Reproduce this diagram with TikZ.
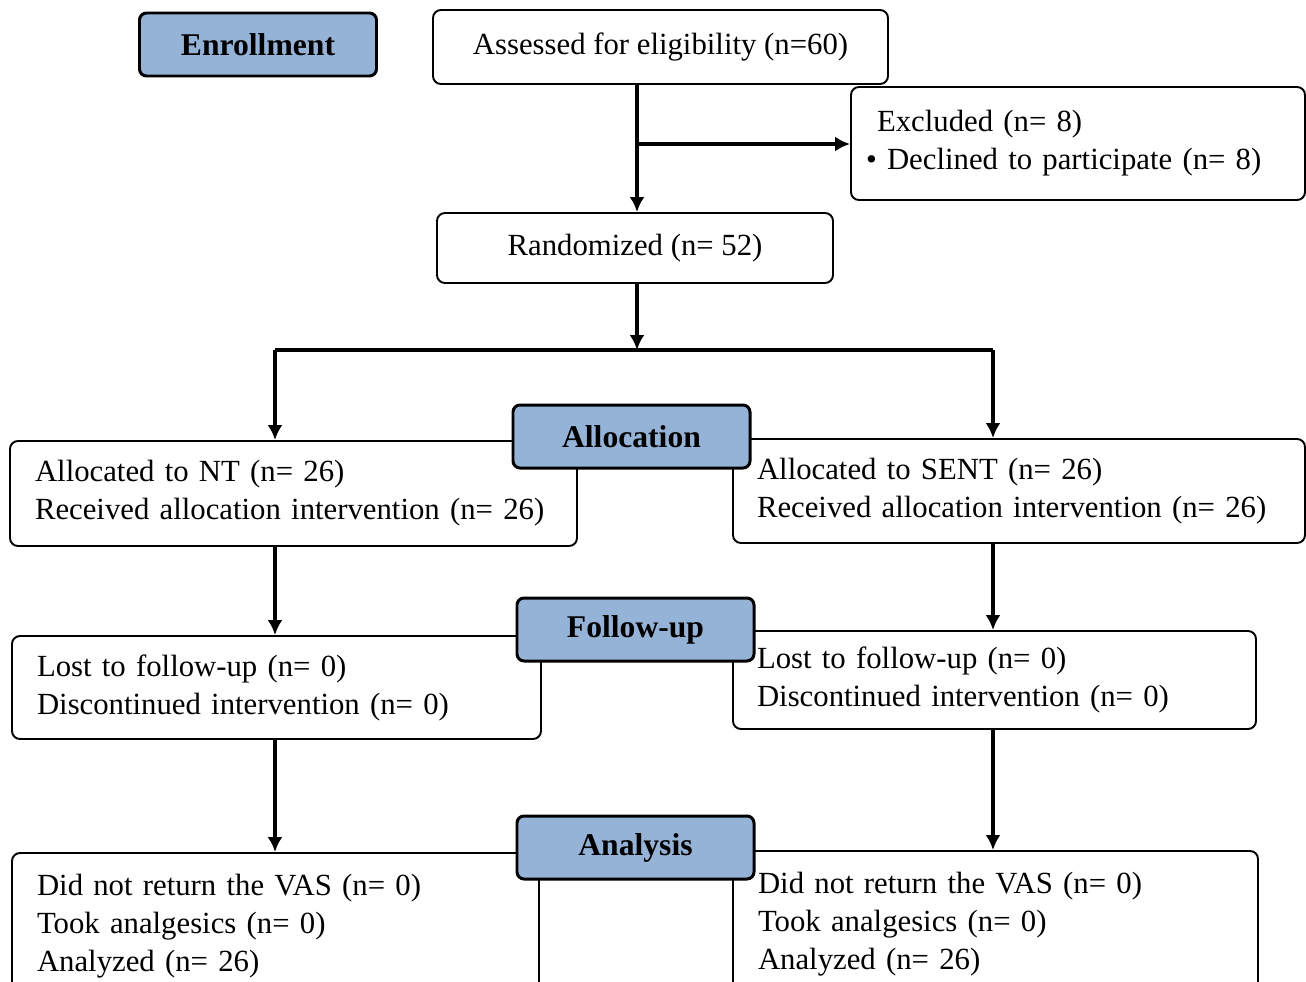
\documentclass[tikz,border=0pt]{standalone}
\usepackage{fontspec}
\setmainfont{Liberation Serif}
\usepackage{xcolor}
\usepackage{tikz}
\usetikzlibrary{arrows.meta, positioning, calc}
\definecolor{stageblue}{HTML}{95B3D7}

\begin{document}
\begin{tikzpicture}[font=\fontsize{17.5}{21.6}\selectfont]
    \tikzstyle{box} = [rectangle, draw, line width=1.1pt, rounded corners=1.6mm, fill=white, align=center]
    \tikzstyle{listbox} = [box, align=left, inner xsep=0.5cm, inner ysep=0pt]
    \tikzstyle{stage} = [rectangle, draw, line width=1.7pt, fill=stageblue, rounded corners=1.4mm, minimum width=4.74cm, minimum height=1.26cm, font=\fontsize{18}{21.6}\selectfont\bfseries]
    \tikzstyle{arrow} = [-{Latex[length=3mm,width=3mm]}, line width=2.2pt]
    \tikzstyle{line} = [line width=2.2pt]

    \useasboundingbox (0,0) rectangle (26.12,-19.62);
    \clip (0,0) rectangle (26.12,-19.62);

    % Enrollment
    \node[stage] (enroll) at (5.16,-0.89) {Enrollment};
    \node[box, minimum width=9.1cm, minimum height=1.48cm] (assess) at (13.21,-0.94) {Assessed for eligibility (n=60)\vphantom{p}};
    \node[listbox, inner xsep=0.3cm, text width=8.48cm, minimum height=2.26cm] (excl) at (21.56,-2.87) {\hspace*{0.22cm}Excluded (n= 8)\\\textbullet{} Declined to participate (n= 8)};
    \node[box, minimum width=7.92cm, minimum height=1.4cm] (rand) at (12.7,-4.96) {Randomized (n= 52)};

    % Allocation
    \node[listbox, text width=10.34cm, minimum height=2.1cm] (allocnt) at (5.87,-9.87) {Allocated to NT (n= 26)\\Received allocation intervention (n= 26)};
    \node[listbox, inner xsep=0.48cm, text width=10.48cm, minimum height=2.08cm] (allocsent) at (20.38,-9.82) {Allocated to SENT (n= 26)\\Received allocation intervention (n= 26)};
    \node[stage] (alloc) at (12.63,-8.73) {Allocation};

    % Follow-up
    \node[listbox, text width=9.58cm, minimum height=2.06cm] (lostnt) at (5.53,-13.75) {Lost to follow-up (n= 0)\\Discontinued intervention (n= 0)};
    \node[listbox, inner xsep=0.48cm, text width=9.5cm, minimum height=1.96cm] (lostsent) at (19.89,-13.6) {Lost to follow-up (n= 0)\\Discontinued intervention (n= 0)};
    \node[stage] (follow) at (12.71,-12.59) {Follow-up};

    % Analysis
    \node[listbox, text width=9.54cm, minimum height=2.92cm] (analnt) at (5.51,-18.52) {Did not return the VAS (n= 0)\\Took analgesics (n= 0)\\Analyzed (n= 26)};
    \node[listbox, text width=9.5cm, minimum height=2.92cm] (analsent) at (19.91,-18.48) {Did not return the VAS (n= 0)\\Took analgesics (n= 0)\\Analyzed (n= 26)};
    \node[stage] (analysis) at (12.71,-16.95) {Analysis};

    % connectors
    \coordinate (junc) at (12.74,-2.88);
    \coordinate (split) at (12.74,-7.0);
    \coordinate (splitL) at (5.5,-7.0);
    \coordinate (splitR) at (19.86,-7.0);

    \draw[arrow] (assess.south -| junc) -- (rand.north -| junc);
    \draw[arrow] (junc) -- (excl.west |- junc);
    \draw[arrow] (rand.south -| junc) -- (split);
    \draw[line] (splitL) -- (splitR);
    \draw[arrow] (splitL) -- (allocnt.north -| splitL);
    \draw[arrow] (splitR) -- (allocsent.north -| splitR);
    \draw[arrow] (allocnt.south -| splitL) -- (lostnt.north -| splitL);
    \draw[arrow] (allocsent.south -| splitR) -- (lostsent.north -| splitR);
    \draw[arrow] (lostnt.south -| splitL) -- (analnt.north -| splitL);
    \draw[arrow] (lostsent.south -| splitR) -- (analsent.north -| splitR);
\end{tikzpicture}
\end{document}
